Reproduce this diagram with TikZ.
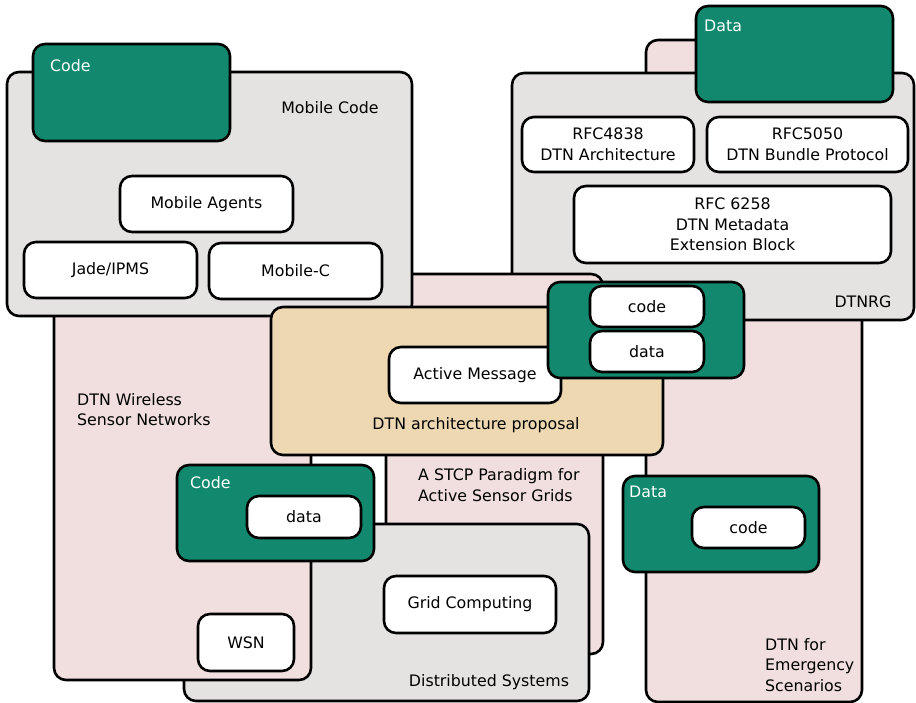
\documentclass[tikz,border=0pt]{standalone}
\usepackage{fontspec}
\setmainfont{DejaVu Sans}
\definecolor{cgray}{RGB}{228,227,225}
\definecolor{cpink}{RGB}{241,223,223}
\definecolor{cbeige}{RGB}{237,216,178}
\definecolor{cgreen}{RGB}{18,137,110}
\begin{document}
\begin{tikzpicture}[x=1pt,y=-1pt,
  container/.style={draw=black, line width=2.6pt, rounded corners=12pt, inner sep=0pt, outer sep=0pt},
  graybox/.style={container, fill=cgray},
  pinkbox/.style={container, fill=cpink},
  beigebox/.style={container, fill=cbeige},
  greenbox/.style={container, fill=cgreen},
  itembox/.style={container, fill=white, align=center, font=\fontsize{15.8}{20.5}\selectfont},
  lbl/.style={inner sep=0pt, font=\fontsize{15.8}{20.5}\selectfont},
  wlbl/.style={lbl, text=white, anchor=west}]
\useasboundingbox (0,0) rectangle (916,703);
% Emergency
\node[pinkbox, minimum width=216pt, minimum height=662pt] (emerg) at (754,371) {};
% DTNRG
\node[graybox, minimum width=402pt, minimum height=247pt] (dtnrg) at (713,196.5) {};
\node[greenbox, minimum width=197pt, minimum height=96pt] (datatop) at (794.5,54) {};
\node[wlbl] (datatoplbl) at (704,26) {Data};
\node[itembox, minimum width=172pt, minimum height=55pt] (rfc4838) at (608,144.5) {RFC4838\\DTN Architecture};
\node[itembox, minimum width=201pt, minimum height=55pt] (rfc5050) at (807.5,144.5) {RFC5050\\DTN Bundle Protocol};
\node[itembox, minimum width=317pt, minimum height=77pt] (rfc6258) at (732.5,224.5) {RFC 6258\\DTN Metadata\\Extension Block};
\node[lbl] (dtnrglbl) at (863,302) {DTNRG};
% STCP
\node[pinkbox, minimum width=217pt, minimum height=380pt] (stcp) at (494.5,464) {};
\node[lbl, anchor=west, align=left] (stcplbl) at (418,485) {A STCP Paradigm for\\Active Sensor Grids};
% Distributed systems
\node[graybox, minimum width=405pt, minimum height=177pt] (dist) at (386.5,612.5) {};
\node[itembox, minimum width=172pt, minimum height=57pt] (grid) at (470,604.5) {Grid Computing};
\node[lbl] (distlbl) at (489,682) {Distributed Systems};
% WSN
\node[pinkbox, minimum width=257pt, minimum height=430pt] (wsnarea) at (182.5,465) {};
\node[itembox, minimum width=96pt, minimum height=57pt] (wsn) at (246,642.5) {WSN};
\node[lbl, anchor=west, align=left] (wsnlbl) at (77,409.5) {DTN Wireless\\Sensor Networks};
% Mobile code
\node[graybox, minimum width=405pt, minimum height=244pt] (mobile) at (209.5,194) {};
\node[greenbox, minimum width=197pt, minimum height=97pt] (codetop) at (131.5,92.5) {};
\node[wlbl] (codetoplbl) at (50,66) {Code};
\node[lbl] (mobilelbl) at (330,108) {Mobile Code};
\node[itembox, minimum width=173pt, minimum height=56pt] (agents) at (206.5,204) {Mobile Agents};
\node[itembox, minimum width=173pt, minimum height=56pt] (jade) at (110.5,270) {Jade/IPMS};
\node[itembox, minimum width=173pt, minimum height=56pt] (mobilec) at (295.5,271) {Mobile-C};
% DTN architecture proposal
\node[beigebox, minimum width=392pt, minimum height=148pt] (arch) at (467,381) {};
\node[itembox, minimum width=172pt, minimum height=56pt] (active) at (475,375) {Active Message};
\node[lbl] (archlbl) at (476,425) {DTN architecture proposal};
\node[greenbox, minimum width=196pt, minimum height=96pt] (cd) at (646,330) {};
\node[itembox, minimum width=114pt, minimum height=41pt] (cdcode) at (647,306.5) {code};
\node[itembox, minimum width=114pt, minimum height=41pt] (cddata) at (647,351.5) {data};
% Code lower left
\node[greenbox, minimum width=197pt, minimum height=96pt] (codelow) at (275.5,513) {};
\node[wlbl] (codelowlbl) at (190,483) {Code};
\node[itembox, minimum width=114pt, minimum height=42pt] (datalowin) at (304,517) {data};
% Data lower right
\node[greenbox, minimum width=196pt, minimum height=96pt] (datalow) at (721,524) {};
\node[wlbl] (datalowlbl) at (629,492) {Data};
\node[itembox, minimum width=113pt, minimum height=41pt] (codelowin) at (748.5,527.5) {code};
% Emergency label
\node[lbl, anchor=west, align=left] (emerglbl) at (765,665) {DTN for\\Emergency\\Scenarios};
\end{tikzpicture}
\end{document}
